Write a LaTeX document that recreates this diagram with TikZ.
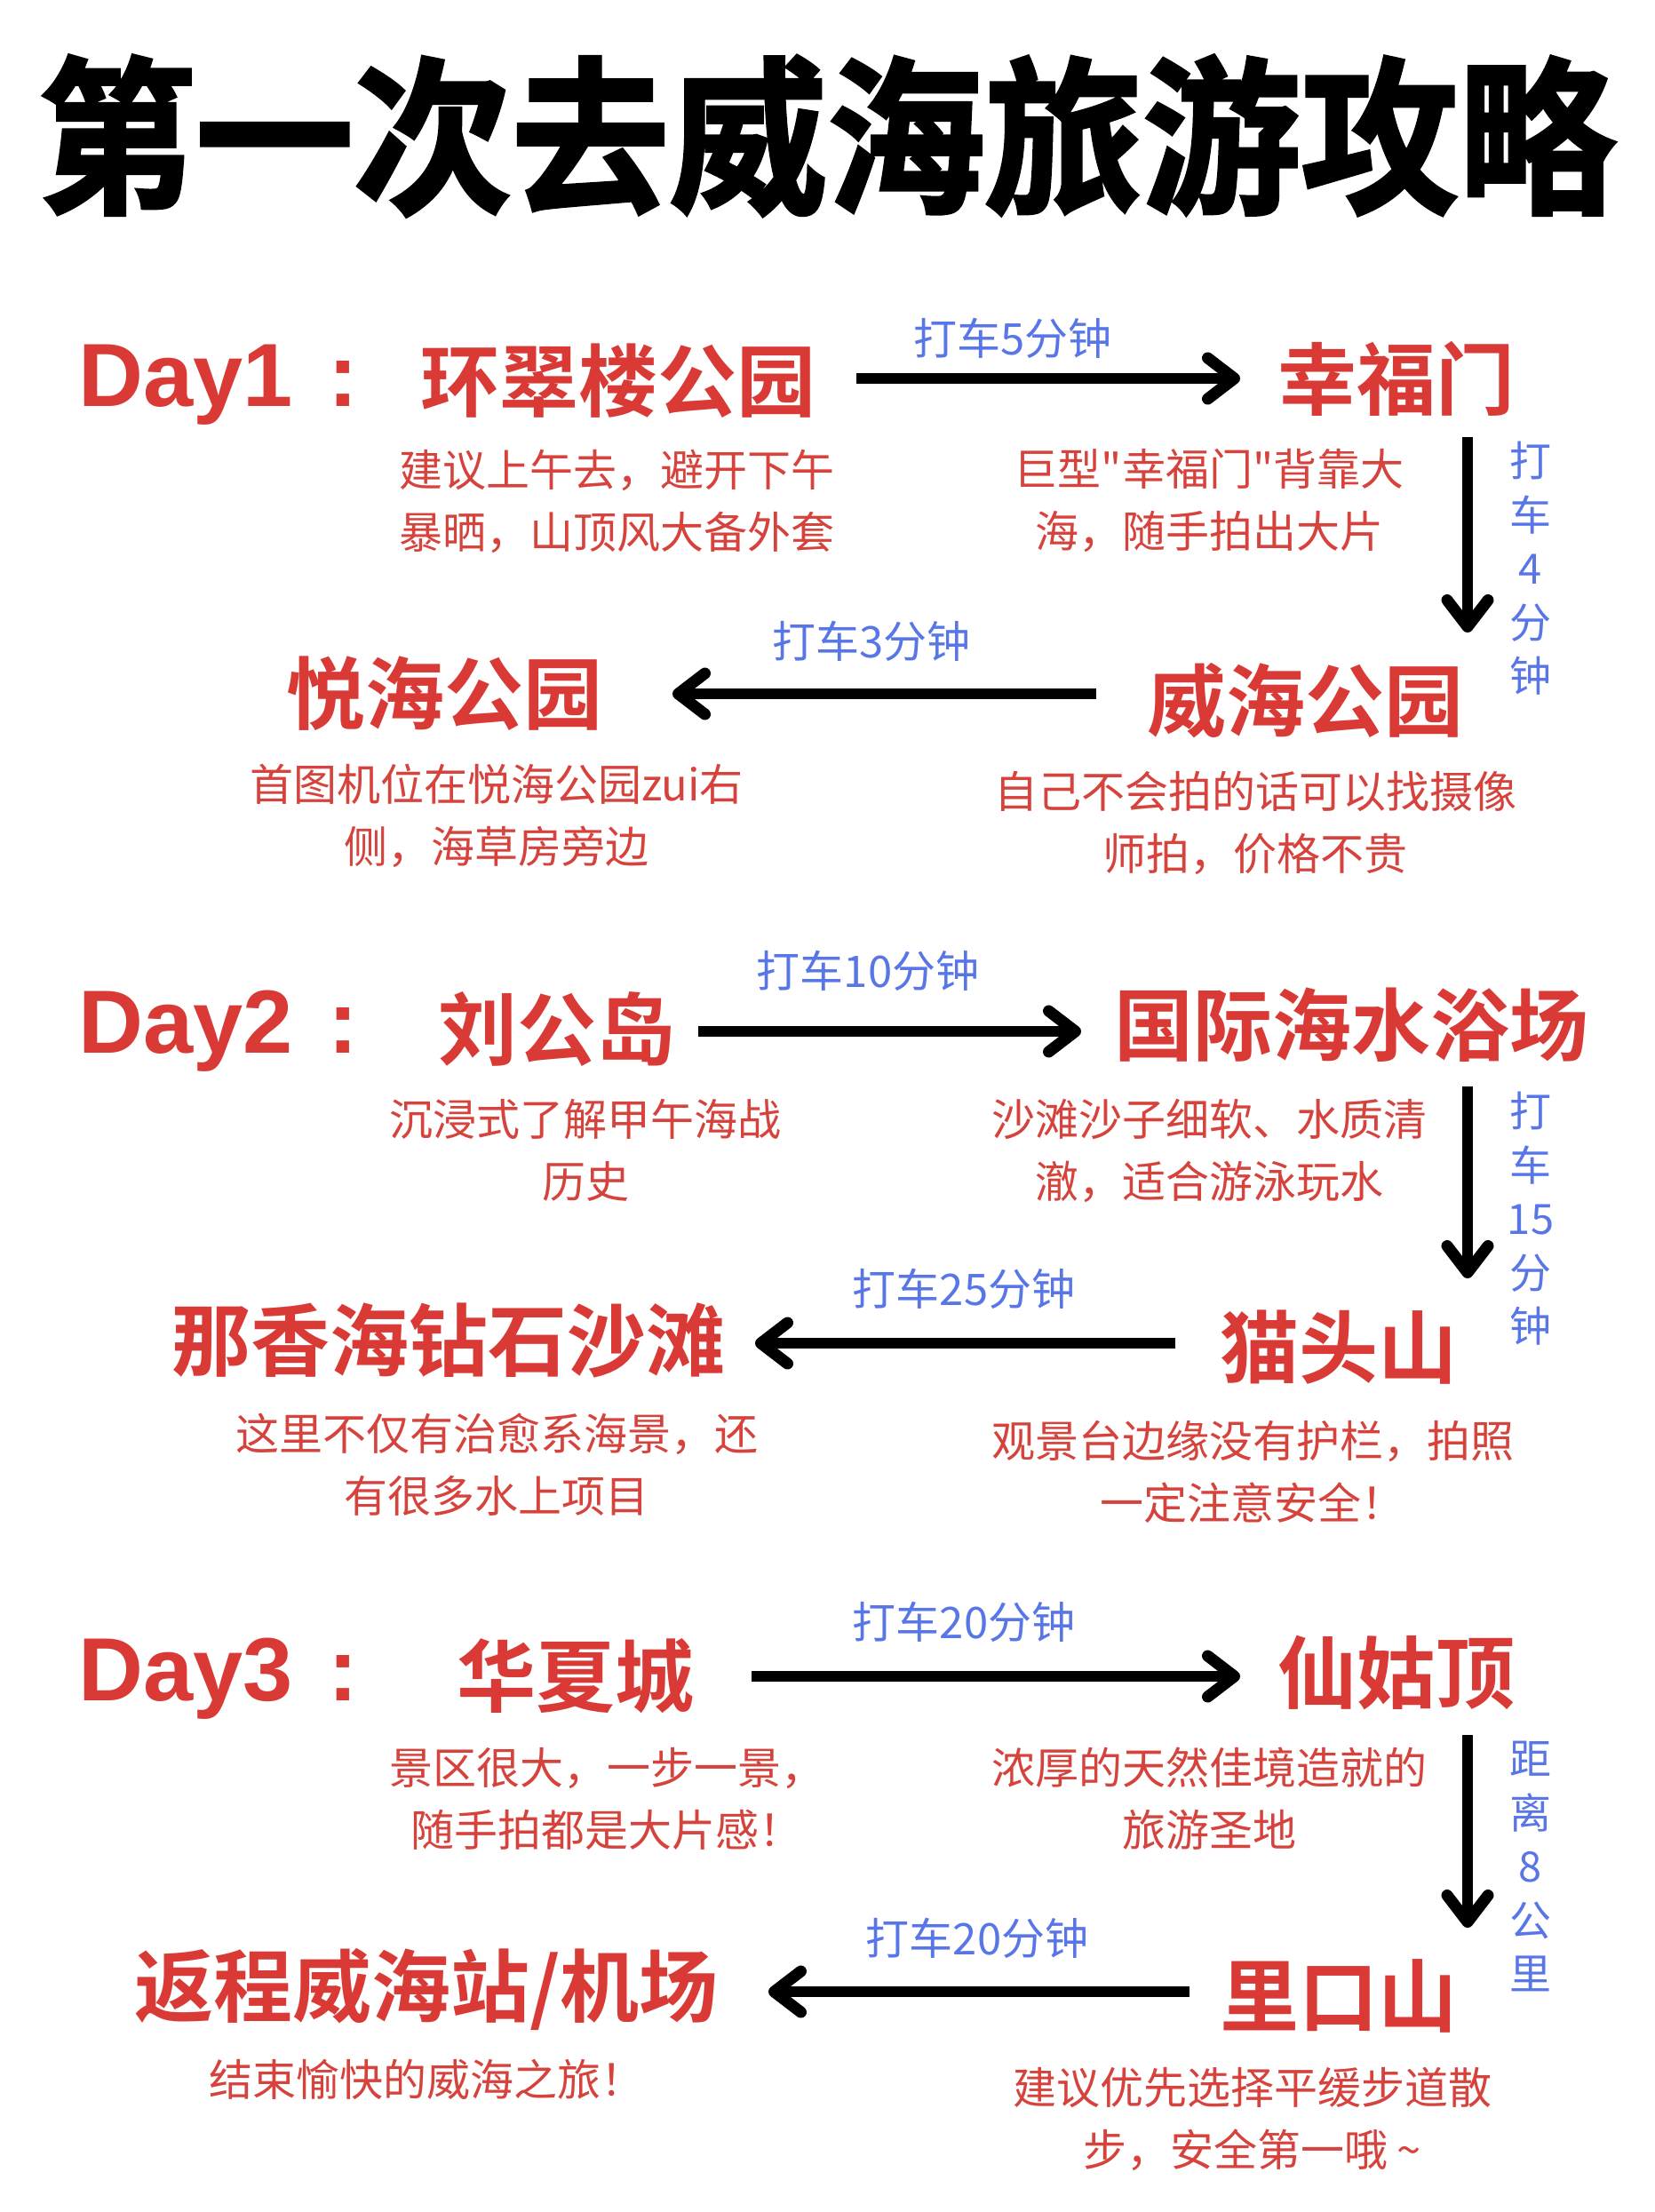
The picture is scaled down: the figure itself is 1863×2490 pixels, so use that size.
\documentclass[tikz,border=0pt]{standalone}
\usepackage{fontspec}
\usetikzlibrary{arrows.meta}
\newfontfamily\cjk{Noto Sans CJK SC}
\newfontfamily\cjkbold{Noto Sans CJK SC}[UprightFont={* Bold}]
\newfontfamily\titlefont{Noto Sans CJK SC}[UprightFont={* Bold},FakeBold=2,FakeStretch=0.935]
\newfontfamily\dayfont{Liberation Sans}[UprightFont={* Bold}]
\definecolor{namered}{RGB}{218,58,53}
\definecolor{descred}{RGB}{214,66,60}
\definecolor{labblue}{RGB}{88,118,230}
\tikzset{
  title/.style={inner sep=0pt,font=\titlefont\fontsize{190}{200}\selectfont,text=black},
  daylab/.style={inner sep=0pt,anchor=base west,font=\dayfont\fontsize{101}{110}\selectfont,text=namered},
  place/.style={inner sep=0pt,font=\cjkbold\fontsize{89}{100}\selectfont,text=namered},
  desc/.style={inner sep=0pt,align=center,font=\cjk\fontsize{49}{70}\selectfont,text=descred},
  ride/.style={inner sep=0pt,font=\cjk\fontsize{49}{55}\selectfont,text=labblue},
  vride/.style={inner sep=0pt,align=center,font=\cjk\fontsize{47}{60.5}\selectfont,text=labblue},
  conn/.style={line width=12pt,-{Straight Barb[length=30pt,width=46pt,line width=13pt,round]}},
}
\begin{document}
\begin{tikzpicture}[x=1pt,y=-1pt]
\useasboundingbox[fill=white] (0,0) rectangle (1863,2490);
\node[title] (ttl) at (931,153) {第一次去威海旅游攻略};

% ---------- Day 1 ----------
\node[daylab] (d1) at (88,457) {Day1\hspace{40pt}:};
\node[place] (p1) at (696,429) {环翠楼公园};
\node[place] (p2) at (1572,426) {幸福门};
\node[place] (p3) at (1469,789) {威海公园};
\node[place] (p4) at (500,781) {悦海公园};
\node[desc] (t1) at (694,564) {建议上午去，避开下午\\暴晒，山顶风大备外套};
\node[desc] (t2) at (1361,564) {巨型"幸福门"背靠大\\海，随手拍出大片};
\node[desc] (t3) at (1413,926) {自己不会拍的话可以找摄像\\师拍，价格不贵};
\node[desc] (t4) at (559,918) {首图机位在悦海公园zui右\\侧，海草房旁边};
\coordinate (a1s) at (964,426); \coordinate (a1e) at (1396,426);
\draw[conn] (a1s) -- (a1e);
\node[ride] (r1) at (1140,381) {打车5分钟};
\coordinate (v1s) at (1652,492); \coordinate (v1e) at (1652,712);
\draw[conn] (v1s) -- (v1e);
\node[vride] (r2) at (1723,640) {打\\车\\4\\分\\钟};
\coordinate (a2s) at (1234,781); \coordinate (a2e) at (757,781);
\draw[conn] (a2s) -- (a2e);
\node[ride] (r3) at (981,722) {打车3分钟};

% ---------- Day 2 ----------
\node[daylab] (d2) at (88,1185) {Day2\hspace{40pt}:};
\node[place] (p5) at (627,1158) {刘公岛};
\node[place] (p6) at (1521,1154) {国际海水浴场};
\node[place] (p7) at (1507,1517) {猫头山};
\node[place] (p8) at (505,1509) {那香海钻石沙滩};
\node[desc] (t5) at (659,1295) {沉浸式了解甲午海战\\历史};
\node[desc] (t6) at (1361,1295) {沙滩沙子细软、水质清\\澈，适合游泳玩水};
\node[desc] (t7) at (1410,1657) {观景台边缘没有护栏，拍照\\一定注意安全！};
\node[desc] (t8) at (559,1649) {这里不仅有治愈系海景，还\\有很多水上项目};
\coordinate (a3s) at (786,1161); \coordinate (a3e) at (1217,1161);
\draw[conn] (a3s) -- (a3e);
\node[ride] (r4) at (977,1093) {打车10分钟};
\coordinate (v2s) at (1652,1223); \coordinate (v2e) at (1652,1439);
\draw[conn] (v2s) -- (v2e);
\node[vride] (r5) at (1723,1372) {打\\车\\15\\分\\钟};
\coordinate (a4s) at (1323,1512); \coordinate (a4e) at (850,1512);
\draw[conn] (a4s) -- (a4e);
\node[ride] (r6) at (1085,1451) {打车25分钟};

% ---------- Day 3 ----------
\node[daylab] (d3) at (88,1914) {Day3\hspace{40pt}:};
\node[place] (p9) at (648,1887) {华夏城};
\node[place] (p10) at (1572,1883) {仙姑顶};
\node[place] (p11) at (1507,2247) {里口山};
\node[place] (p12) at (480,2239) {返程威海站/机场};
\node[desc] (t9) at (683,2025) {景区很大，一步一景，\\随手拍都是大片感！};
\node[desc] (t10) at (1361,2025) {浓厚的天然佳境造就的\\旅游圣地};
\node[desc] (t11) at (1410,2385) {建议优先选择平缓步道散\\步，安全第一哦\hspace{10pt}\textasciitilde};
\node[desc] (t12) at (480,2341) {结束愉快的威海之旅！};
\coordinate (a5s) at (846,1887); \coordinate (a5e) at (1396,1887);
\draw[conn] (a5s) -- (a5e);
\node[ride] (r7) at (1085,1826) {打车20分钟};
\coordinate (v3s) at (1652,1953); \coordinate (v3e) at (1652,2170);
\draw[conn] (v3s) -- (v3e);
\node[vride] (r8) at (1723,2101) {距\\离\\8\\公\\里};
\coordinate (a6s) at (1339,2242); \coordinate (a6e) at (865,2242);
\draw[conn] (a6s) -- (a6e);
\node[ride] (r9) at (1100,2182) {打车20分钟};
\end{tikzpicture}
\end{document}
